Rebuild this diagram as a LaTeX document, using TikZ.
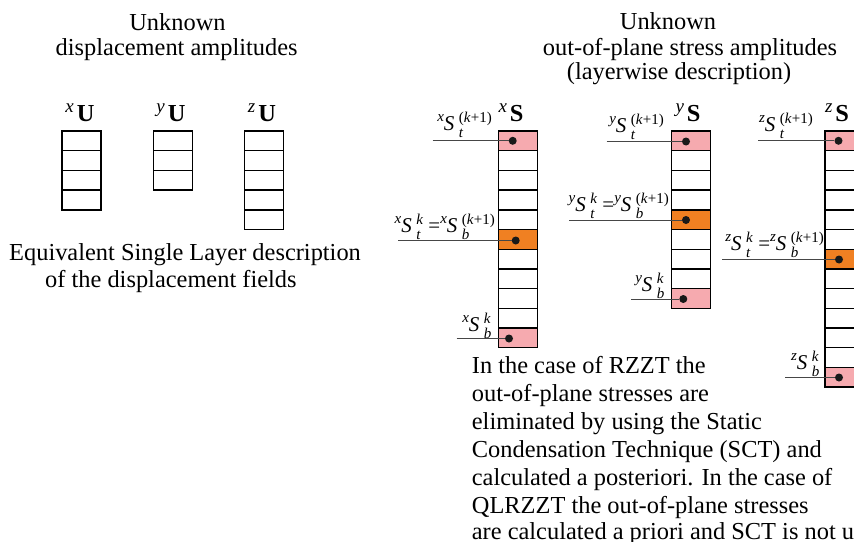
\documentclass[tikz,border=0pt]{standalone}
\usepackage{fontspec}
\setmainfont{Liberation Serif}
\definecolor{pinkc}{RGB}{246,170,175}
\definecolor{orangec}{RGB}{240,128,34}
\definecolor{linec}{RGB}{70,70,70}
\tikzset{
  cell/.style={draw=black, line width=1.4pt, minimum width=39pt, minimum height=19.7pt, inner sep=0pt, outer sep=0pt},
  dotn/.style={circle, fill=black!90, minimum size=8pt, inner sep=0pt},
  lead/.style={draw=linec, line width=0.9pt},
  big/.style={font=\fontsize{24.4}{28}\selectfont, inner sep=0pt},
  lab/.style={font=\fontsize{21}{21}\selectfont, inner sep=0pt, anchor=base east},
}
\newcommand\mycol[6]{%
  \foreach \i in {1,...,#3}{%
    \def\cc{white}%
    \ifnum\i=#4 \def\cc{pinkc}\fi
    \ifnum\i=#6 \def\cc{pinkc}\fi
    \ifnum\i=#5 \def\cc{orangec}\fi
    \node[cell, fill=\cc, anchor=north west] (#1\i) at (#2, {131+(\i-1)*19.7}) {};
  }}
\newcommand\scr{\fontsize{15}{15}\selectfont}
\newcommand\pre[1]{\raisebox{0.42em}{\scr\itshape #1}}
% #1 prescript, #2 subscript, #3 superscript
\newcommand\Sv[3]{\pre{#1}\textit{S}\hspace{4.5pt}\raisebox{-7pt}{\rlap{\scr\itshape #2}}\raisebox{8pt}{\scr #3}}
\newcommand\kp{(\textit{k}+1)}
\newcommand\Seq[1]{\Sv{#1}{t}{\textit{k}} =\Sv{#1}{b}{\kp}}
\newcommand\hd[2]{\raisebox{0.36em}{\fontsize{19}{19}\selectfont\itshape #1}\hspace{3pt}\textbf{#2}}
\begin{document}
\begin{tikzpicture}[x=1pt,y=-1pt]
\useasboundingbox (0,0) rectangle (854,541);
\clip (0,0) rectangle (854,541);

% left header
\node[big, anchor=base] (t1) at (177.5,30) {Unknown};
\node[big, anchor=base] (t2) at (176.7,55) {displacement amplitudes};
\node[big, anchor=base west] (t3) at (9,260.7) {Equivalent Single Layer description};
\node[big, anchor=base west] (t4) at (45,287.3) {of the displacement fields};

% right header
\node[big, anchor=base] (r1) at (668,29.3) {Unknown};
\node[big, anchor=base] (r2) at (690,55) {out-of-plane stress amplitudes};
\node[big, anchor=base] (r3) at (679,79.5) {(layerwise description)};

% U columns
\mycol{xu}{62}{4}{0}{0}{0}
\mycol{yu}{153.3}{3}{0}{0}{0}
\mycol{zu}{244.5}{5}{0}{0}{0}
\node[big, anchor=base] (hxu) at (80,121.7) {\hd{x}{U}};
\node[big, anchor=base] (hyu) at (171,121.7) {\hd{y}{U}};
\node[big, anchor=base] (hzu) at (262,121.7) {\hd{z}{U}};

% S columns
\mycol{xs}{498.3}{11}{1}{6}{11}
\mycol{ys}{671.7}{9}{1}{5}{9}
\mycol{zs}{825}{13}{1}{7}{13}
\node[big, anchor=base] (hxs) at (511,121.7) {\hd{x}{S}};
\node[big, anchor=base] (hys) at (688,121.7) {\hd{y}{S}};
\node[big, anchor=base] (hzs) at (837,121.7) {\hd{z}{S}};

% x S labels and leaders
\node[lab] (lxa) at (492,130.5) {\Sv{x}{t}{\kp}};
\node[lab] (lxb) at (495,232.5) {\Seq{x}};
\node[lab] (lxc) at (491,331.5) {\Sv{x}{b}{\textit{k}}};
\coordinate (cxa) at (432.7,140.8);
\coordinate (cxb) at (398.3,240.5);
\coordinate (cxc) at (456.7,338.5);
\node[dotn] (dxa) at (512.7,140.8) {};
\node[dotn] (dxb) at (515.7,240.5) {};
\node[dotn] (dxc) at (509,338.5) {};
\draw[lead] (cxa) -- (dxa);
\draw[lead] (cxb) -- (dxb);
\draw[lead] (cxc) -- (dxc);

% y S labels and leaders
\node[lab] (lya) at (664,132) {\Sv{y}{t}{\kp}};
\node[lab] (lyb) at (669,211) {\Seq{y}};
\node[lab] (lyc) at (664,291) {\Sv{y}{b}{\textit{k}}};
\coordinate (cya) at (606.7,141.5);
\coordinate (cyb) at (569.3,220);
\coordinate (cyc) at (631,299);
\node[dotn] (dya) at (686,141.5) {};
\node[dotn] (dyb) at (686,220) {};
\node[dotn] (dyc) at (683.3,299) {};
\draw[lead] (cya) -- (dya);
\draw[lead] (cyb) -- (dyb);
\draw[lead] (cyc) -- (dyc);

% z S labels and leaders
\node[lab] (lza) at (813,131.5) {\Sv{z}{t}{\kp}};
\node[lab] (lzb) at (824,250.5) {\Seq{z}};
\node[lab] (lzc) at (819,369.5) {\Sv{z}{b}{\textit{k}}};
\coordinate (cza) at (758.3,140.8);
\coordinate (czb) at (722.3,259.5);
\coordinate (czc) at (785,377.5);
\node[dotn] (dza) at (838.5,140.8) {};
\node[dotn] (dzb) at (839,259.5) {};
\node[dotn] (dzc) at (839,377.5) {};
\draw[lead] (cza) -- (dza);
\draw[lead] (czb) -- (dzb);
\draw[lead] (czc) -- (dzc);

% paragraph
\node[big, anchor=base west] (p1) at (471.7,373.5) {In the case of RZZT the};
\node[big, anchor=base west] (p2) at (471.7,401.5) {out-of-plane stresses are};
\node[big, anchor=base west] (p3) at (471.7,429.5) {eliminated by using the Static};
\node[big, anchor=base west] (p4) at (471.7,457.5) {Condensation Technique (SCT) and};
\node[big, anchor=base west] (p5) at (471.7,485.5) {calculated a posteriori. In the case of};
\node[big, anchor=base west] (p6) at (471.7,513.5) {QLRZZT the out-of-plane stresses};
\node[big, anchor=base west] (p7) at (471.7,539.5) {are calculated a priori and SCT is not used.};
\end{tikzpicture}
\end{document}
